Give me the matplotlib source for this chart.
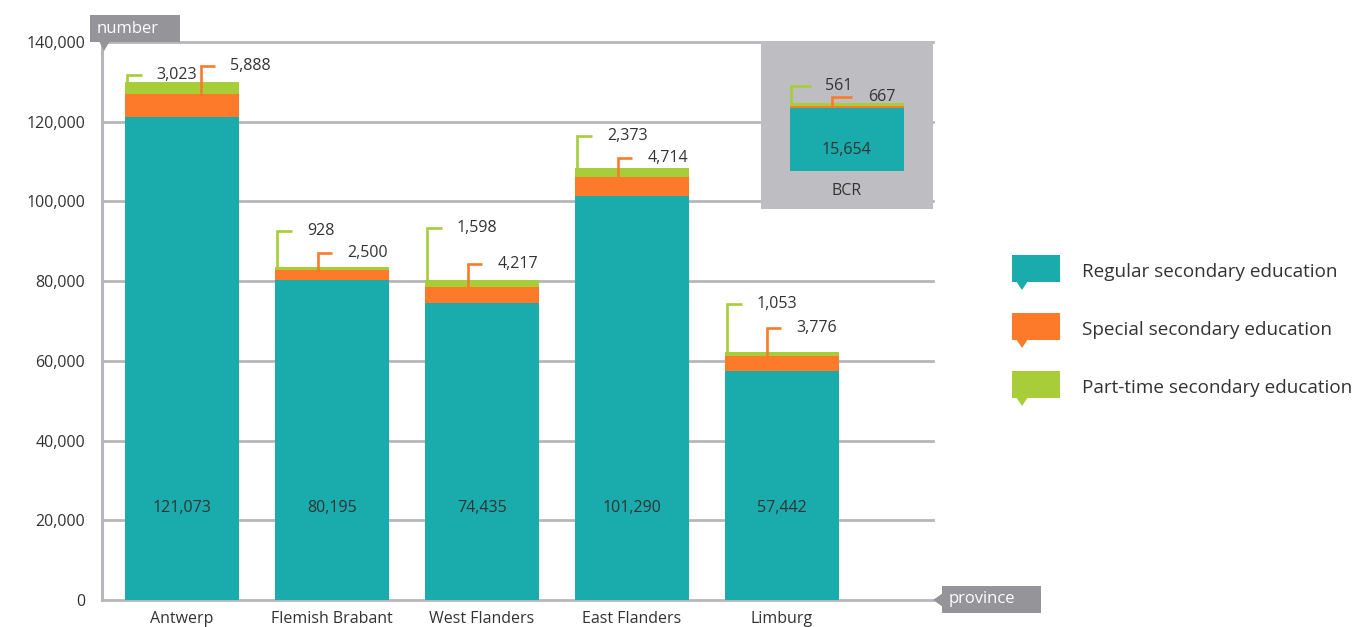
import matplotlib
matplotlib.use("Agg")
import matplotlib.pyplot as plt
from matplotlib.patches import Polygon, Rectangle

# ---------------- data ----------------
provinces = ["Antwerp", "Flemish Brabant", "West Flanders", "East Flanders", "Limburg"]
regular = [121073, 80195, 74435, 101290, 57442]
special = [5888, 2500, 4217, 4714, 3776]
parttime = [3023, 928, 1598, 2373, 1053]

bcr_label = "BCR"
bcr_regular = 15654
bcr_special = 667
bcr_parttime = 561

series_names = ["Regular secondary education", "Special secondary education",
                "Part-time secondary education"]
y_ticks = [0, 20000, 40000, 60000, 80000, 100000, 120000, 140000]

# ---------------- style ----------------
TEAL = "#1aabad"
ORANGE = "#fd7a2a"
GREEN = "#a7cd39"
GRID = "#b6b6bb"
TXT = "#333333"
TAGGREY = "#949499"
BCRBG = "#bebec2"
FONT = ["Open Sans", "DejaVu Sans"]
plt.rcParams["font.family"] = FONT

W, H = 1367, 627
fig = plt.figure(figsize=(W / 100, H / 100), dpi=100)


def px_rect(x0, y0, x1, y1):
    return [x0 / W, 1 - y1 / H, (x1 - x0) / W, (y1 - y0) / H]


# callout styling (offsets above stack total, horizontal positions inside bar)
green_off = [1800, 9000, 13000, 8000, 12000]
orange_off = [4000, 3500, 4000, 2500, 6000]
orange_x = [0.667, 0.377, 0.377, 0.377, 0.37]   # fraction of bar width from left edge
BW = 0.76
LW = 1.9
XR = 933

ax = fig.add_axes(px_rect(102, 42, XR, 600))
x = list(range(len(provinces)))
ax.set_xlim(-80 / 150, (XR - 182) / 150)
ax.set_ylim(0, 140000)

for t in y_ticks:
    ax.axhline(t, color=GRID, lw=2, zorder=0, clip_on=False)
ax.axvline(ax.get_xlim()[0], color=GRID, lw=2.2, zorder=0.5, clip_on=False)

bot2 = [r + s for r, s in zip(regular, special)]
ax.bar(x, regular, width=BW, color=TEAL, zorder=2)
ax.bar(x, special, width=BW, bottom=regular, color=ORANGE, zorder=2)
ax.bar(x, parttime, width=BW, bottom=bot2, color=GREEN, zorder=2)

FS = 11.5
for i in x:
    total = regular[i] + special[i] + parttime[i]
    left = i - BW / 2
    ax.text(i, 23000, f"{regular[i]:,}", ha="center", va="center", fontsize=FS, color=TXT, zorder=3)
    # green callout
    gy = total + green_off[i]
    gx = left + 0.012
    ax.plot([gx, gx, gx + 0.1], [total, gy, gy], color=GREEN, lw=LW, zorder=3,
            solid_joinstyle="miter", solid_capstyle="butt")
    ax.text(gx + 0.2, gy, f"{parttime[i]:,}", ha="left", va="center", fontsize=FS, color=TXT)
    # orange callout
    oy = total + orange_off[i]
    ox = left + orange_x[i] * BW
    ax.plot([ox, ox, ox + 0.095], [bot2[i], oy, oy], color=ORANGE, lw=LW, zorder=3,
            solid_joinstyle="miter", solid_capstyle="butt")
    ax.text(ox + 0.195, oy, f"{special[i]:,}", ha="left", va="center", fontsize=FS, color=TXT)

ax.set_yticks(y_ticks)
ax.set_yticklabels([f"{t:,}" for t in y_ticks], fontsize=FS, color=TXT)
ax.set_xticks(x)
ax.set_xticklabels(provinces, fontsize=FS, color=TXT)
ax.tick_params(axis="y", length=0, pad=12)
ax.tick_params(axis="x", length=0, pad=8)
for s in ax.spines.values():
    s.set_visible(False)
ax.patch.set_alpha(0)

# ---------------- BCR inset ----------------
bx = fig.add_axes(px_rect(761, 41, 933, 209))
bx.set_facecolor(BCRBG)
bx.set_xlim(-85.5 / 150, 86.5 / 150)
bx.set_ylim(-9500, 32500)
for s in bx.spines.values():
    s.set_visible(False)
bx.set_xticks([])
bx.set_yticks([])
bx.bar([0], [bcr_regular], width=BW, color=TEAL)
bx.bar([0], [bcr_special], width=BW, bottom=[bcr_regular], color=ORANGE)
bx.bar([0], [bcr_parttime], width=BW, bottom=[bcr_regular + bcr_special], color=GREEN)
btot = bcr_regular + bcr_special + bcr_parttime
bleft = -BW / 2
bx.text(0, 5250, f"{bcr_regular:,}", ha="center", va="center", fontsize=FS, color=TXT)
bx.text(0, -5000, bcr_label, ha="center", va="center", fontsize=FS, color=TXT)
gy = btot + 4400
gx = bleft + 0.012
bx.plot([gx, gx, gx + 0.13], [btot, gy, gy], color=GREEN, lw=LW,
        solid_joinstyle="miter", solid_capstyle="butt")
bx.text(gx + 0.225, gy, f"{bcr_parttime:,}", ha="left", va="center", fontsize=FS, color=TXT)
oy = btot + 1600
ox = bleft + 0.377 * BW
bx.plot([ox, ox, ox + 0.13], [bcr_regular + bcr_special, oy, oy], color=ORANGE, lw=LW,
        solid_joinstyle="miter", solid_capstyle="butt")
bx.text(ox + 0.235, oy, f"{bcr_special:,}", ha="left", va="center", fontsize=FS, color=TXT)

# ---------------- overlay (tags and legend) ----------------
ov = fig.add_axes([0, 0, 1, 1], zorder=10)
ov.set_xlim(0, W)
ov.set_ylim(H, 0)
ov.axis("off")

# "number" tag
ov.add_patch(Rectangle((90, 15), 90, 27, color=TAGGREY, lw=0))
ov.add_patch(Polygon([(99, 41), (110, 41), (104, 51)], closed=True, color=TAGGREY, lw=0))
ov.text(97, 29, "number", color="white", fontsize=12, ha="left", va="center")

# "province" tag
ov.add_patch(Rectangle((942, 586), 99, 27, color=TAGGREY, lw=0))
ov.add_patch(Polygon([(943, 593), (943, 607), (933, 600)], closed=True, color=TAGGREY, lw=0))
ov.text(949, 599, "province", color="white", fontsize=12, ha="left", va="center")

# legend
for k, (name, col) in enumerate(zip(series_names, [TEAL, ORANGE, GREEN])):
    y0 = 255 + k * 58
    ov.add_patch(Rectangle((1012, y0), 48, 27, color=col, lw=0))
    ov.add_patch(Polygon([(1016, y0 + 26), (1028, y0 + 26), (1022, y0 + 35)], closed=True,
                         color=col, lw=0))
    ov.text(1082, y0 + 17, name, color=TXT, fontsize=13.6, ha="left", va="center")

fig.savefig("out.png", dpi=100)
